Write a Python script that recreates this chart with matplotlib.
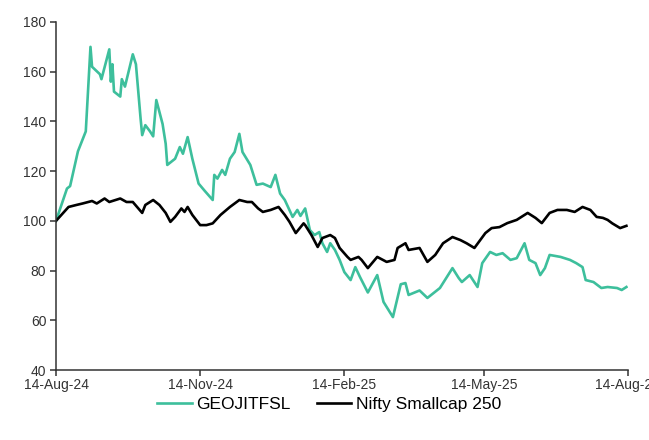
import pandas as pd
import matplotlib
matplotlib.use("Agg")
import matplotlib.pyplot as plt
import matplotlib.dates as mdates

start = pd.Timestamp("2024-08-14")

# days after 14-Aug-24, rebased value (start = 100)
geo_days = [0, 7, 9, 14, 19, 22, 23, 28, 29, 34, 35, 36, 37, 41, 42, 44, 49, 51, 54, 55,
            57, 60, 62, 64, 68, 70, 71, 74, 76, 79, 81, 84, 87, 91, 95, 100, 101, 103, 106, 108,
            111, 114, 117, 119, 124, 128, 132, 137, 140, 143, 146, 151, 154, 156, 159, 162, 165, 168, 170, 173,
            175, 178, 181, 184, 188, 191, 194, 199, 205, 209, 215, 220, 223, 225, 232, 237, 245, 253, 257, 259,
            264, 269, 272, 277, 281, 285, 290, 294, 299, 302, 306, 309, 312, 315, 322, 328, 332, 336, 338, 343,
            348, 352, 358, 361, 364]
geo_vals = [100, 113, 114, 128, 136, 170, 162, 159, 157, 169, 156, 163, 152, 150, 157, 154, 167, 163, 141, 134.5,
            138.5, 136, 134, 148.6, 139, 131, 122.5, 124, 125, 129.7, 127, 133.7, 125, 115, 112, 108.4, 118.5, 117, 120.5, 118.5,
            125, 127.7, 135, 127.7, 122.5, 114.5, 115, 113.6, 118.5, 111, 108.4, 101.6, 104.4, 102, 105, 96.3, 94.3, 95.5, 91, 87.5,
            91, 88.3, 84.3, 79.4, 76.2, 81.4, 77.4, 71.2, 78.2, 67.4, 61.3, 74.5, 75, 70.2, 72, 69, 73, 81, 77, 75.4,
            78.2, 73.4, 83, 87.5, 86.3, 87, 84.3, 85, 91, 84.3, 83, 78.2, 81, 86.3, 85.5, 84.3, 83, 81.4, 76.2, 75.4,
            73, 73.4, 73, 72.2, 73.4]

nifty_days = [0, 8, 13, 17, 23, 26, 31, 34, 41, 45, 49, 55, 57, 62, 66, 70, 73, 76, 80, 82,
              84, 87, 92, 96, 100, 105, 111, 117, 122, 125, 129, 132, 137, 142, 146, 149, 153, 158, 159, 163,
              167, 170, 175, 178, 181, 186, 188, 193, 195, 199, 205, 211, 216, 218, 223, 225, 232, 237, 242, 247,
              253, 258, 262, 267, 274, 278, 283, 288, 294, 301, 306, 310, 315, 320, 326, 331, 336, 341, 345, 349,
              352, 355, 360, 364]
nifty_vals = [100, 105.6, 106.4, 107, 108, 107, 109, 107.6, 109, 107.6, 107.6, 103.2, 106.4, 108.4, 106.4, 103.2, 99.6, 101.6, 105, 103.6,
              105.6, 102.4, 98.3, 98.3, 99, 102.4, 105.6, 108.4, 107.6, 107.6, 105, 103.6, 104.4, 105.6, 102.4, 99.6, 95.1, 99, 98.3, 94.3,
              89.5, 93.1, 94.3, 93.1, 89.1, 85.5, 84.3, 85.5, 84.3, 81, 85.5, 83.5, 84.3, 89.1, 91, 88.3, 89.1, 83.5, 86.3, 91,
              93.5, 92.3, 91, 89.1, 95.1, 97.1, 97.5, 99.1, 100.4, 103.2, 101.2, 99.1, 103.2, 104.4, 104.4, 103.6, 105.6, 104.4, 101.6, 101.2,
              100.4, 99, 97.1, 98]

tick_dates = ["2024-08-14", "2024-11-14", "2025-02-14", "2025-05-14", "2025-08-14"]
y_ticks = [40, 60, 80, 100, 120, 140, 160, 180]

plt.rcParams["font.family"] = ["Liberation Sans", "DejaVu Sans"]

geo_x = start + pd.to_timedelta(geo_days, unit="D")
nifty_x = start + pd.to_timedelta(nifty_days, unit="D")

fig = plt.figure(figsize=(6.49, 4.40), dpi=100)
ax = fig.add_axes([0.0863, 0.159, 0.8813, 0.791])

ax.plot(geo_x, geo_vals, color="#3dbf9c", lw=1.9, label="GEOJITFSL")
ax.plot(nifty_x, nifty_vals, color="black", lw=1.9, label="Nifty Smallcap 250")

ax.set_ylim(40, 180)
ax.set_yticks(y_ticks)
ax.set_xlim(pd.Timestamp(tick_dates[0]), pd.Timestamp(tick_dates[-1]))
ax.set_xticks([pd.Timestamp(d) for d in tick_dates])
ax.xaxis.set_major_formatter(mdates.DateFormatter("%d-%b-%y"))

for s in ["top", "right"]:
    ax.spines[s].set_visible(False)
for s in ["left", "bottom"]:
    ax.spines[s].set_color("#333333")
    ax.spines[s].set_linewidth(1.1)
ax.tick_params(axis="both", length=4, width=1.1, color="#333333",
               labelsize=10, labelcolor="#333333")
ax.tick_params(axis="x", pad=2)
ax.tick_params(axis="y", pad=3)

fig.legend(loc="center", bbox_to_anchor=(329 / 649, 1 - 404 / 440), ncol=2, frameon=False,
           fontsize=12.5, handlelength=2.0, handletextpad=0.25, columnspacing=1.5)

fig.savefig("out.png", dpi=100)
